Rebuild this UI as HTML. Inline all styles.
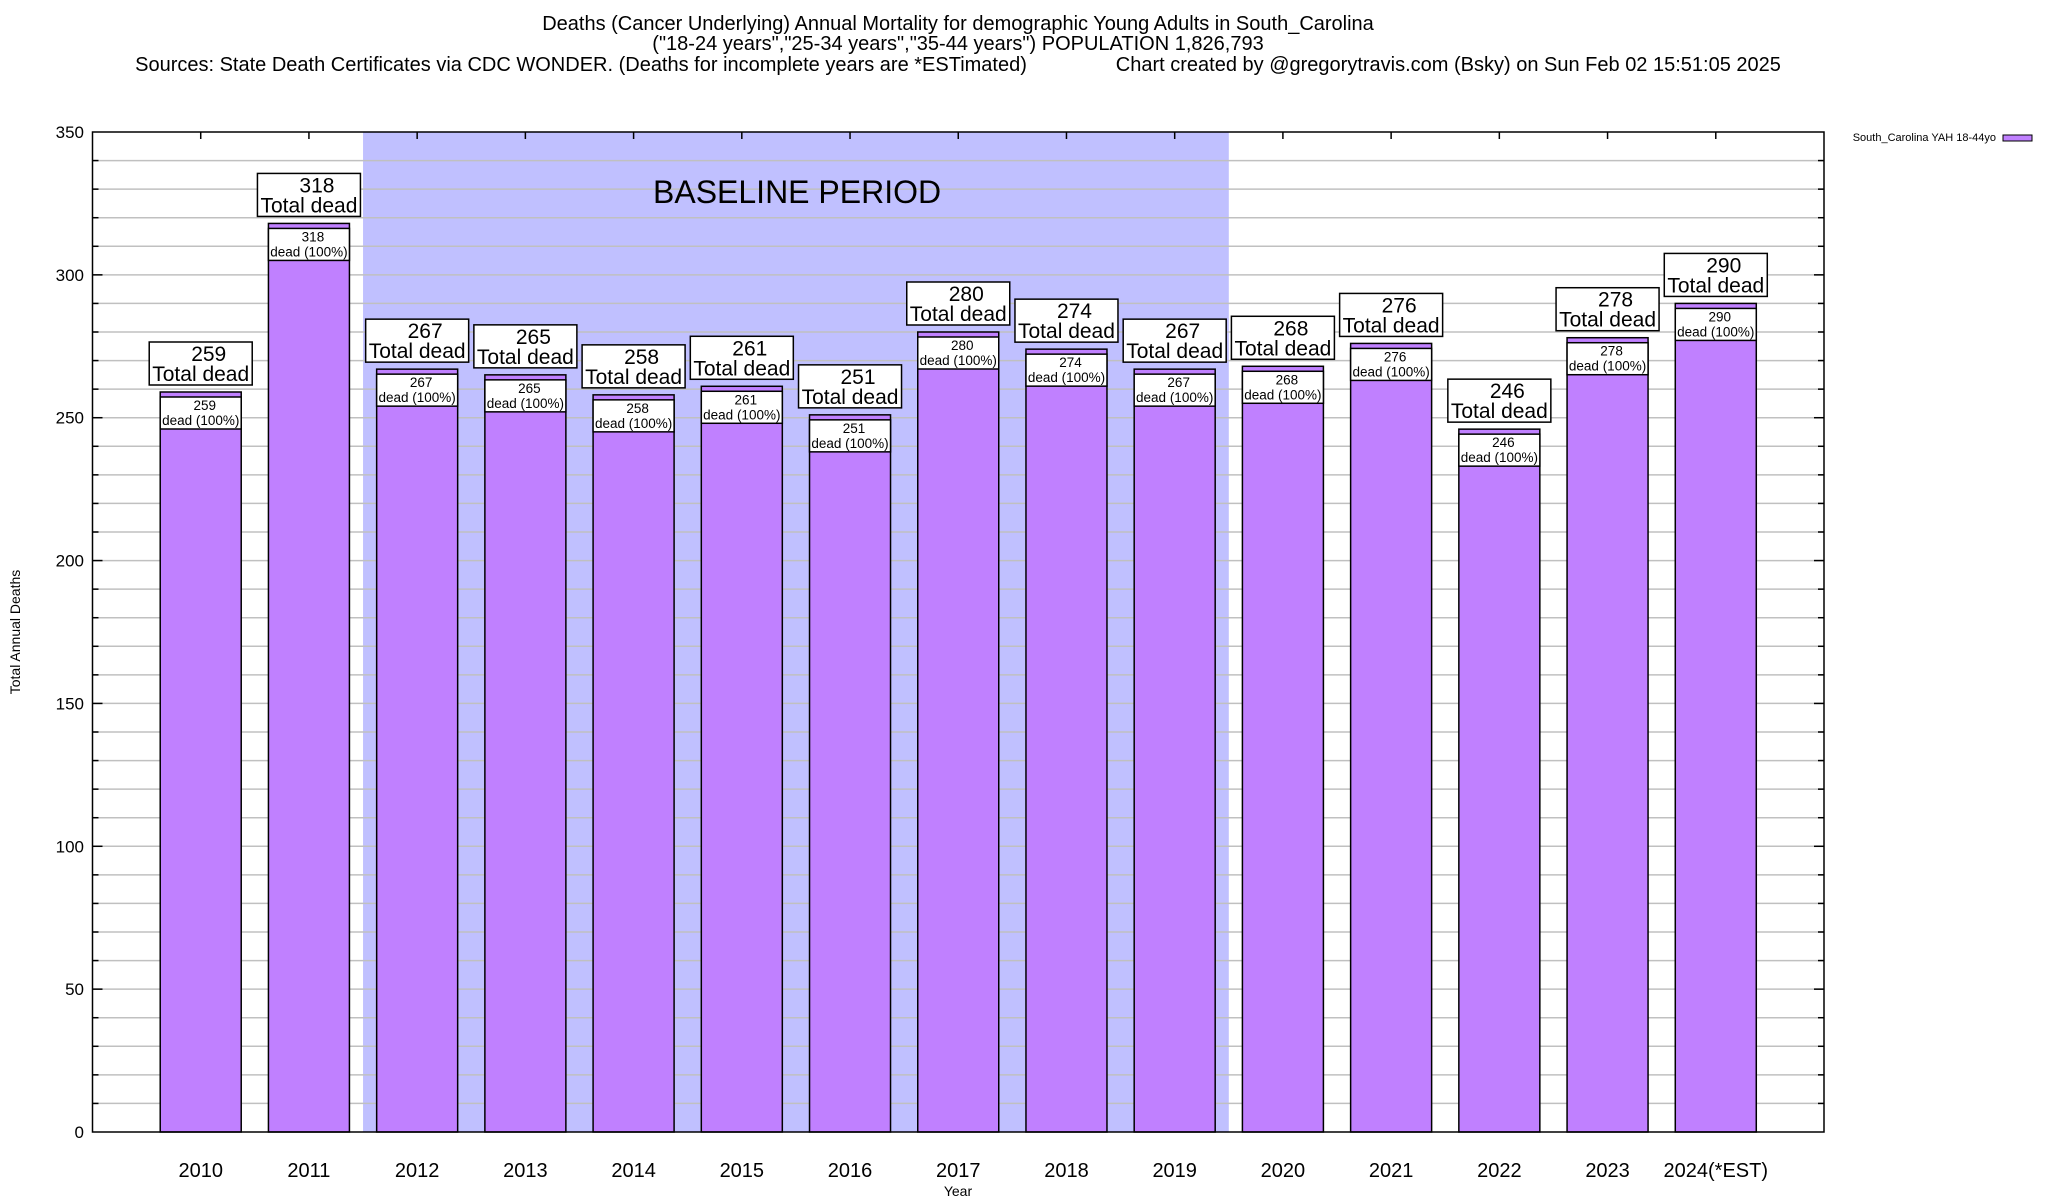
<!DOCTYPE html>
<html><head><meta charset="utf-8"><style>
body{margin:0;background:#fff;}
svg{display:block;font-family:"Liberation Sans",sans-serif;}
</style></head><body>
<svg id="chart" width="2048" height="1200" viewBox="0 0 2048 1200" xmlns="http://www.w3.org/2000/svg">
<g font-size="20" text-anchor="middle">
<text x="958" y="30">Deaths (Cancer Underlying) Annual Mortality for demographic Young Adults in South_Carolina</text>
<text x="958" y="50">("18-24 years","25-34 years","35-44 years") POPULATION 1,826,793</text>
<text x="958" y="71" xml:space="preserve">Sources: State Death Certificates via CDC WONDER. (Deaths for incomplete years are *ESTimated)                Chart created by @gregorytravis.com (Bsky) on Sun Feb 02 15:51:05 2025</text>
</g>
<g id="plot"></g>
<text x="1996" y="141" font-size="11" text-anchor="end">South_Carolina YAH 18-44yo</text>
<rect x="2003" y="135" width="29" height="6" fill="#c080ff" stroke="#000" stroke-width="1"/>
<text x="958" y="1196" font-size="14" text-anchor="middle">Year</text>
<text transform="translate(20,632) rotate(-90)" font-size="14" text-anchor="middle">Total Annual Deaths</text>
</svg>
<script>
const categories=["2010","2011","2012","2013","2014","2015","2016","2017","2018","2019","2020","2021","2022","2023","2024(*EST)"];
const deaths=[259,318,267,265,258,261,251,280,274,267,268,276,246,278,290];
const yTicks=[0,50,100,150,200,250,300,350];
const baselineStart=1.5, baselineEnd=9.5;
const L=92.5,R=1824,T=132,B=1132,yMax=350;
const NS="http://www.w3.org/2000/svg";
const g=document.getElementById('plot');
function x(i){return L+(i+1)*(R-L)/16;}
function y(v){return B-v*(B-T)/yMax;}
function mk(tag,a,parent){const e=document.createElementNS(NS,tag);for(const k in a)e.setAttribute(k,a[k]);(parent||g).appendChild(e);return e;}
let e=mk('rect',{x:x(baselineStart),y:T,width:x(baselineEnd)-x(baselineStart),height:B-T,fill:'#c0c0ff'});


for(let v=10;v<yMax;v+=10){
 e=mk('line',{x1:L,x2:R,y1:y(v),y2:y(v),stroke:'#c0c0c0','stroke-width':1.5});
 
 
 const len=(v%50===0)?10:6;
 mk('line',{x1:L,x2:L+len,y1:y(v),y2:y(v),stroke:'#000','stroke-width':1.5});
 mk('line',{x1:R,x2:R-len,y1:y(v),y2:y(v),stroke:'#000','stroke-width':1.5});
}
e=mk('text',{x:653,y:203,'font-size':32});
e.textContent='BASELINE PERIOD';


yTicks.forEach(t=>{
 e=mk('text',{x:84,y:y(t)+6,'font-size':17,'text-anchor':'end'});
 e.textContent=t;
 
 
});
const bw=81;
categories.forEach((c,i)=>{
 const cx=x(i),v=deaths[i],top=y(v);
 e=mk('rect',{x:cx-bw/2,y:top,width:bw,height:B-top,fill:'#c080ff',stroke:'#000','stroke-width':1.5});
 
 
 mk('line',{x1:cx,x2:cx,y1:T,y2:T+7,stroke:'#000','stroke-width':1.5});
 e=mk('rect',{x:cx-bw/2,y:top+5,width:bw,height:32,fill:'#fff',stroke:'#000','stroke-width':1.5});
 
 
 e=mk('text',{x:cx+4,y:top+18,'font-size':13.5,'text-anchor':'middle'});e.textContent=v;
 
 
 e=mk('text',{x:cx,y:top+33,'font-size':13.5,'text-anchor':'middle'});e.textContent='dead (100%)';
 
 
 const ob=top-7;
 e=mk('rect',{x:cx-51.5,y:ob-43,width:103,height:43,fill:'#fff',stroke:'#000','stroke-width':1.5});
 
 
 e=mk('text',{x:cx+8,y:ob-24,'font-size':21,'text-anchor':'middle'});e.textContent=v;
 
 
 e=mk('text',{x:cx,y:ob-4,'font-size':21,'text-anchor':'middle'});e.textContent='Total dead';
 
 
 e=mk('text',{x:cx,y:1177,'font-size':20,'text-anchor':'middle'});e.textContent=c;
 
 
});
e=mk('rect',{x:L,y:T,width:R-L,height:B-T,fill:'none',stroke:'#000','stroke-width':1.5});


</script>
</body></html>
